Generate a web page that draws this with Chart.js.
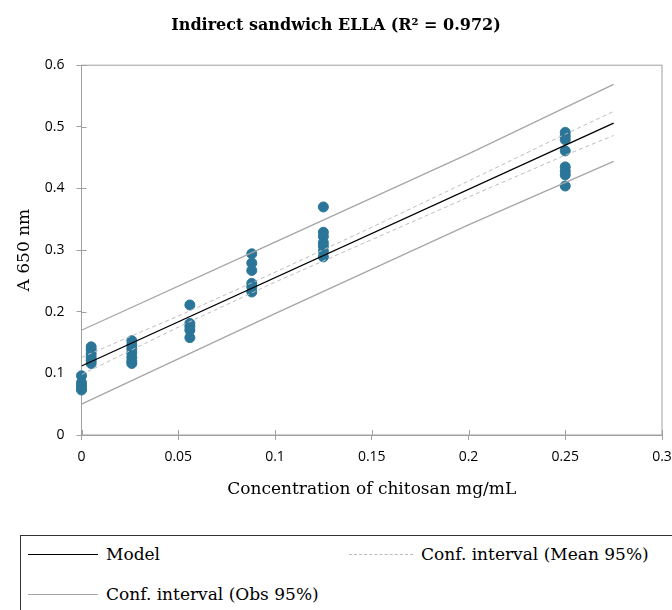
<!DOCTYPE html>
<html>
<head>
<meta charset="utf-8">
<script src="https://cdn.jsdelivr.net/npm/chart.js@4"></script>
<style>
  body { margin: 0; background: #fff; }
  #wrap { position: relative; width: 672px; height: 610px; overflow: hidden; }
  #chart { position: absolute; left: 0; top: 0; }
  #legend {
    position: absolute; left: 20px; top: 535px; width: 660px; height: 90px;
    border: 1px solid #333; box-sizing: border-box;
    font-family: 'DejaVu Serif', serif; font-size: 17px; color: #000;
  }
  .item { position: absolute; display: flex; align-items: center; white-space: nowrap; }
  .swatch { display: inline-block; margin-right: 8px; }
</style>
</head>
<body>
<div id="wrap">
  <canvas id="chart" width="672" height="520"></canvas>
  <div id="legend">
    <div class="item" style="left:7px; top:8px;"><span class="swatch" style="width:70px; border-top:1.5px solid #000;"></span>Model</div>
    <div class="item" style="left:328px; top:8px;"><span class="swatch" style="width:64px; border-top:1px dashed #bbb;"></span>Conf. interval (Mean 95%)</div>
    <div class="item" style="left:7px; top:48px;"><span class="swatch" style="width:70px; border-top:1.5px solid #a6a6a6;"></span>Conf. interval (Obs 95%)</div>
  </div>
</div>
<script>
// chitosan concentrations (mg/mL) and measured absorbances at each one
const concentrations = [0, 0.005, 0.026, 0.056, 0.088, 0.125, 0.25];
const absorbance = [
  [0.096, 0.085, 0.080, 0.077, 0.073],
  [0.143, 0.138, 0.132, 0.126, 0.121, 0.116],
  [0.153, 0.146, 0.140, 0.133, 0.126, 0.120, 0.116],
  [0.211, 0.181, 0.176, 0.170, 0.158],
  [0.294, 0.279, 0.267, 0.246, 0.240, 0.232],
  [0.370, 0.329, 0.322, 0.312, 0.306, 0.298, 0.289],
  [0.491, 0.485, 0.479, 0.461, 0.435, 0.428, 0.422, 0.404]
];

// regression model
const modelX = [0, 0.275];
const modelY = [0.112, 0.506];

// confidence interval of the mean
const meanX = [0, 0.05, 0.1, 0.15, 0.2, 0.25, 0.275];
const meanUpper = [0.126, 0.193, 0.264, 0.337, 0.412, 0.488, 0.525];
const meanLower = [0.098, 0.175, 0.248, 0.317, 0.386, 0.454, 0.486];

// confidence interval of the observations
const obsX = [0, 0.1, 0.2, 0.275];
const obsUpper = [0.170, 0.313, 0.456, 0.569];
const obsLower = [0.050, 0.197, 0.341, 0.444];

const xTicks = [0, 0.05, 0.1, 0.15, 0.2, 0.25, 0.3];
const yTicks = [0, 0.1, 0.2, 0.3, 0.4, 0.5, 0.6];

const pts = [];
concentrations.forEach((c, i) => absorbance[i].forEach(a => pts.push({ x: c, y: a })));
const pair = (xs, ys) => xs.map((x, i) => ({ x: x, y: ys[i] }));

const lineDs = (label, data, color, width, dash) => ({
  type: 'line', label: label, data: data, borderColor: color, borderWidth: width,
  borderDash: dash || [], pointRadius: 0, fill: false, tension: 0
});

const axisColor = '#a0a0a0';
const tickFont = { family: 'Open Sans', size: 14 };

// plot-area frame + the inner half of the cross ticks
const frame = {
  id: 'frame',
  beforeDatasetsDraw(chart) {
    const a = chart.chartArea, ctx = chart.ctx;
    const xs = chart.scales.x, ys = chart.scales.y;
    ctx.save();
    ctx.strokeStyle = axisColor;
    ctx.lineWidth = 1;
    ctx.strokeRect(a.left, a.top, a.right - a.left, a.bottom - a.top);
    ctx.beginPath();
    xTicks.forEach(v => {
      const px = Math.round(xs.getPixelForValue(v)) + 0.5;
      ctx.moveTo(px, a.bottom); ctx.lineTo(px, a.bottom - 5);
    });
    yTicks.forEach(v => {
      const py = Math.round(ys.getPixelForValue(v)) + 0.5;
      ctx.moveTo(a.left, py); ctx.lineTo(a.left + 5, py);
    });
    ctx.stroke();
    ctx.restore();
  }
};

new Chart(document.getElementById('chart').getContext('2d'), {
  type: 'scatter',
  data: {
    datasets: [
      lineDs('Model', pair(modelX, modelY), '#000', 1.3),
      lineDs('Mean upper', pair(meanX, meanUpper), '#bdbdbd', 1, [4, 3]),
      lineDs('Mean lower', pair(meanX, meanLower), '#bdbdbd', 1, [4, 3]),
      lineDs('Obs upper', pair(obsX, obsUpper), '#a6a6a6', 1.3),
      lineDs('Obs lower', pair(obsX, obsLower), '#a6a6a6', 1.3),
      {
        label: 'A 650 nm', data: pts, clip: false,
        backgroundColor: '#2a7598', borderColor: '#2a7598',
        pointRadius: 5, pointHoverRadius: 5
      }
    ]
  },
  options: {
    responsive: false,
    devicePixelRatio: 1,
    animation: false,
    layout: { padding: { top: 0, right: 0, left: 0, bottom: 16 } },
    plugins: {
      legend: { display: false },
      tooltip: { enabled: false },
      title: {
        display: true,
        text: 'Indirect sandwich ELLA (R² = 0.972)',
        color: '#000',
        font: { family: 'DejaVu Serif', weight: 'bold', size: 16 },
        padding: { top: 16, bottom: 30 }
      }
    },
    scales: {
      x: {
        type: 'linear', min: 0, max: 0.3,
        afterBuildTicks: s => { s.ticks = xTicks.map(v => ({ value: v })); },
        afterFit: s => { s.height = 69; s.paddingLeft = 0; s.paddingRight = 10; },
        ticks: { color: '#000', font: tickFont, padding: 9, maxRotation: 0,
                 callback: v => String(+v.toFixed(2)) },
        grid: { drawOnChartArea: false, color: axisColor, tickLength: 5 },
        border: { color: axisColor },
        title: { display: true, text: 'Concentration of chitosan mg/mL', color: '#000',
                 font: { family: 'DejaVu Serif', size: 17 }, padding: { top: 0, bottom: 4 } }
      },
      y: {
        type: 'linear', min: 0, max: 0.6,
        afterBuildTicks: s => { s.ticks = yTicks.map(v => ({ value: v })); },
        afterFit: s => { s.width = 81.5; },
        ticks: { color: '#000', font: tickFont, padding: 12,
                 callback: v => String(+v.toFixed(1)) },
        grid: { drawOnChartArea: false, color: axisColor, tickLength: 5 },
        border: { color: axisColor },
        title: { display: true, text: 'A 650 nm', color: '#000',
                 font: { family: 'DejaVu Serif', size: 17 }, padding: { top: 14, bottom: 0 } }
      }
    }
  },
  plugins: [frame]
});
</script>
</body>
</html>
